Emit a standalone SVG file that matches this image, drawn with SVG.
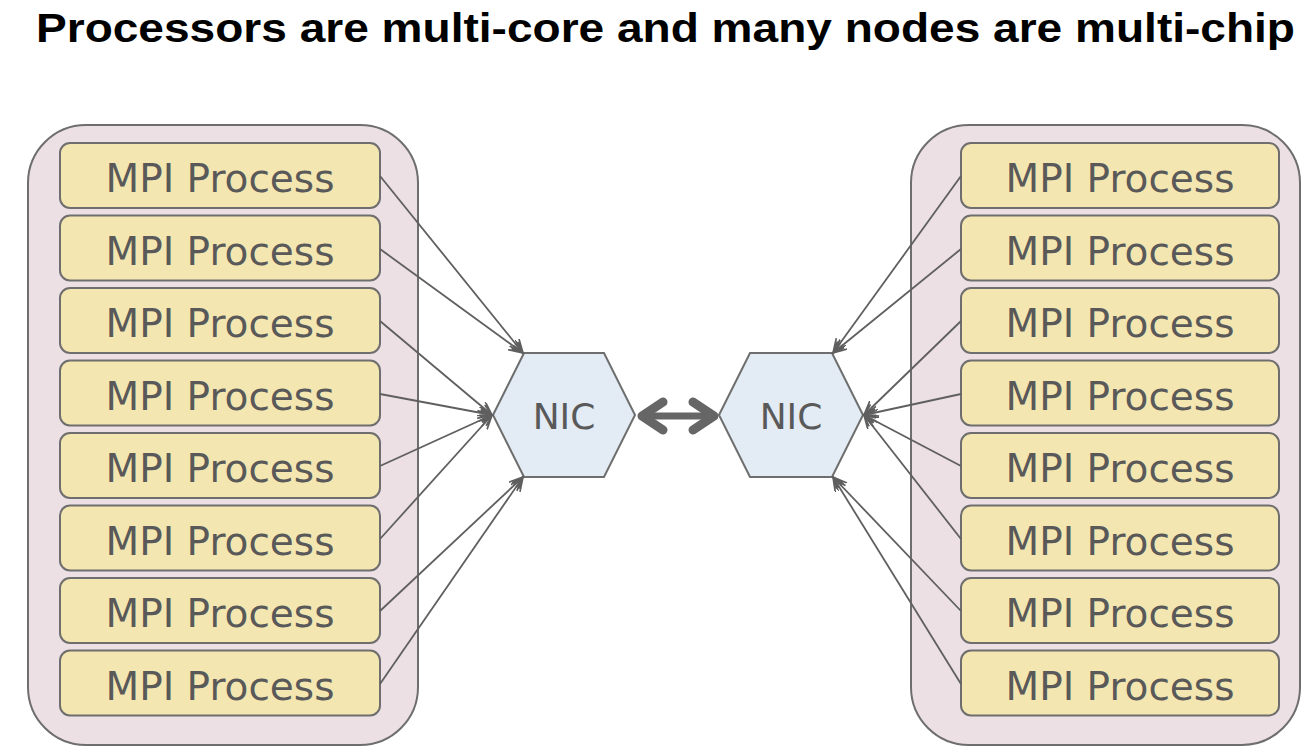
<svg xmlns="http://www.w3.org/2000/svg" width="1314" height="756" viewBox="0 0 1314 756">
<defs>
<style>
.title{font-family:"Liberation Sans",Arial,sans-serif;font-weight:bold;font-size:41px;fill:#000}
.cont{fill:#ede0e4;stroke:#6e6e6e;stroke-width:2}
.proc{fill:#f4e6b0;stroke:#6e6e6e;stroke-width:2}
.nic{fill:#e3ebf4;stroke:#6e6e6e;stroke-width:2}
.lbl{font-family:"DejaVu Sans",Verdana,sans-serif;font-size:39px;fill:#595959;text-anchor:middle}
.nlbl{font-family:"DejaVu Sans",Verdana,sans-serif;font-size:36px;fill:#595959;text-anchor:middle}
.con{stroke:#5f5f5f;stroke-width:1.8;fill:none;marker-end:url(#arr)}
.big{stroke:#666;fill:none;stroke-linecap:round;stroke-linejoin:round}
</style>
<marker id="arr" markerUnits="userSpaceOnUse" markerWidth="16" markerHeight="14" refX="14" refY="6" orient="auto">
<path d="M0,0 L14,6 L0,12 M2,3 L14,6 L2,9" fill="none" stroke="#5f5f5f" stroke-width="1.7"/>
</marker>
</defs>
<rect width="1314" height="756" fill="#fff"/>
<text class="title" x="36" y="42" textLength="1259" lengthAdjust="spacingAndGlyphs">Processors are multi-core and many nodes are multi-chip</text>

<g id="node-left">
<rect class="cont" x="28" y="125" width="390" height="620" rx="58"/>
</g>
<g id="node-right">
<rect class="cont" x="911" y="125" width="389" height="620" rx="58"/>
</g>

<g id="left-processes">
<g id="lp1"><rect class="proc" x="60" y="143" width="320" height="65" rx="10"/><text class="lbl" x="220" y="192">MPI Process</text></g>
<g id="lp2"><rect class="proc" x="60" y="215.5" width="320" height="65" rx="10"/><text class="lbl" x="220" y="264.5">MPI Process</text></g>
<g id="lp3"><rect class="proc" x="60" y="288" width="320" height="65" rx="10"/><text class="lbl" x="220" y="337">MPI Process</text></g>
<g id="lp4"><rect class="proc" x="60" y="360.5" width="320" height="65" rx="10"/><text class="lbl" x="220" y="409.5">MPI Process</text></g>
<g id="lp5"><rect class="proc" x="60" y="433" width="320" height="65" rx="10"/><text class="lbl" x="220" y="482">MPI Process</text></g>
<g id="lp6"><rect class="proc" x="60" y="505.5" width="320" height="65" rx="10"/><text class="lbl" x="220" y="554.5">MPI Process</text></g>
<g id="lp7"><rect class="proc" x="60" y="578" width="320" height="65" rx="10"/><text class="lbl" x="220" y="627">MPI Process</text></g>
<g id="lp8"><rect class="proc" x="60" y="650.5" width="320" height="65" rx="10"/><text class="lbl" x="220" y="699.5">MPI Process</text></g>
</g>

<g id="right-processes">
<g id="rp1"><rect class="proc" x="961" y="143" width="318" height="65" rx="10"/><text class="lbl" x="1120" y="192">MPI Process</text></g>
<g id="rp2"><rect class="proc" x="961" y="215.5" width="318" height="65" rx="10"/><text class="lbl" x="1120" y="264.5">MPI Process</text></g>
<g id="rp3"><rect class="proc" x="961" y="288" width="318" height="65" rx="10"/><text class="lbl" x="1120" y="337">MPI Process</text></g>
<g id="rp4"><rect class="proc" x="961" y="360.5" width="318" height="65" rx="10"/><text class="lbl" x="1120" y="409.5">MPI Process</text></g>
<g id="rp5"><rect class="proc" x="961" y="433" width="318" height="65" rx="10"/><text class="lbl" x="1120" y="482">MPI Process</text></g>
<g id="rp6"><rect class="proc" x="961" y="505.5" width="318" height="65" rx="10"/><text class="lbl" x="1120" y="554.5">MPI Process</text></g>
<g id="rp7"><rect class="proc" x="961" y="578" width="318" height="65" rx="10"/><text class="lbl" x="1120" y="627">MPI Process</text></g>
<g id="rp8"><rect class="proc" x="961" y="650.5" width="318" height="65" rx="10"/><text class="lbl" x="1120" y="699.5">MPI Process</text></g>
</g>

<g id="nic-left">
<polygon class="nic" points="493,415 524,353 604,353 635,415 604,477 524,477"/>
<text class="nlbl" x="564" y="429">NIC</text>
</g>
<g id="nic-right">
<polygon class="nic" points="719,415 750,353 832,353 863,415 832,477 750,477"/>
<text class="nlbl" x="791" y="429">NIC</text>
</g>

<g id="connectors">
<line class="con" x1="380" y1="176" x2="523" y2="353"/>
<line class="con" x1="380" y1="249" x2="523" y2="353"/>
<line class="con" x1="380" y1="321" x2="492" y2="415"/>
<line class="con" x1="380" y1="394" x2="492" y2="415"/>
<line class="con" x1="380" y1="466" x2="492" y2="415"/>
<line class="con" x1="380" y1="539" x2="492" y2="415"/>
<line class="con" x1="380" y1="611" x2="523" y2="477"/>
<line class="con" x1="380" y1="684" x2="523" y2="477"/>

<line class="con" x1="961" y1="176" x2="833" y2="353"/>
<line class="con" x1="961" y1="249" x2="833" y2="353"/>
<line class="con" x1="961" y1="321" x2="864" y2="415"/>
<line class="con" x1="961" y1="394" x2="864" y2="415"/>
<line class="con" x1="961" y1="466" x2="864" y2="415"/>
<line class="con" x1="961" y1="539" x2="864" y2="415"/>
<line class="con" x1="961" y1="611" x2="833" y2="477"/>
<line class="con" x1="961" y1="684" x2="833" y2="477"/>

<g id="nic-link">
<line class="big" x1="645" y1="416" x2="711" y2="416" stroke-width="7"/>
<path class="big" d="M663,402 L642,416 L663,430" stroke-width="9"/>
<path class="big" d="M693,402 L714,416 L693,430" stroke-width="9"/>
</g>
</g>
</svg>
